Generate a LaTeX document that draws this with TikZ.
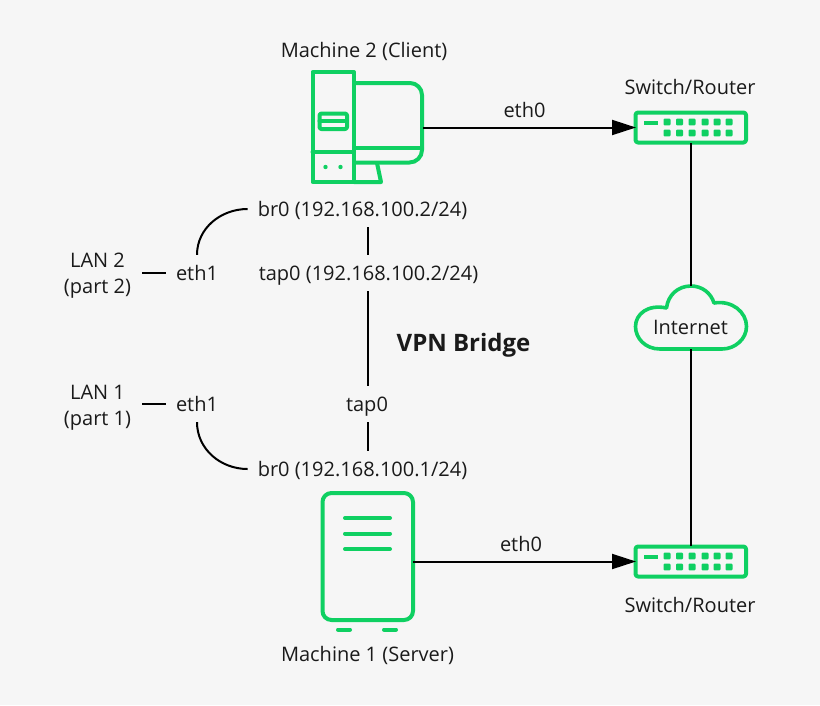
\documentclass[tikz,border=0pt]{standalone}
\usepackage{fontspec}
\setmainfont{Open Sans}
\usetikzlibrary{arrows.meta}
\definecolor{bggrey}{HTML}{F6F6F6}
\definecolor{icongreen}{HTML}{0FD062}
\definecolor{inkc}{HTML}{1A1A1A}
\tikzset{
  x=1pt,y=-1pt,
  lbl/.style={inner xsep=10pt,inner ysep=0pt,minimum height=36pt,text height=17pt,text depth=2pt,font=\fontsize{20}{26}\selectfont,text=inkc},
  lantext/.style={inner xsep=11pt,inner ysep=0pt,align=center,font=\fontsize{20}{26}\selectfont,text=inkc},
  caption/.style={inner sep=0pt,font=\fontsize{20}{22}\selectfont,text=inkc},
  wire/.style={draw=black,line width=2pt},
  arrowwire/.style={wire,-{Triangle[length=24pt,width=15pt]}},
  icon/.style={draw=icongreen,line width=4pt,line join=round,line cap=round},
  iconfill/.style={fill=icongreen,draw=none},
  box/.style={inner sep=0pt,outer sep=0pt,draw=none},
}
\newcommand{\switchicon}[1]{%
  \begin{scope}[shift={(0,#1)}]
    \draw[icon,rounded corners=2.5pt] (635.5,-15) rectangle (746,15);
    \draw[icon,line cap=butt] (644,-5) -- (658,-5);
    \foreach \px in {667,679.5,692,705,717,729}{
      \foreach \py in {-5.5,5.5}{
        \fill[iconfill,rounded corners=1pt] (\px-3.5,\py-3.4) rectangle (\px+3.5,\py+3.4);
      }
    }
  \end{scope}}
\begin{document}
\begin{tikzpicture}
\useasboundingbox (0,0) rectangle (820,705);
\fill[bggrey] (0,0) rectangle (820,705);

% Machine 2 icon
\node[box,minimum width=111pt,minimum height=111pt] (client) at (367.5,127.5) {};
\draw[icon] (312.5,72) rectangle (354,182);
\draw[icon] (312.5,152) -- (354,152);
\draw[icon,rounded corners=2pt] (319.5,113.5) rectangle (347,129);
\draw[icon] (319.5,121) -- (347,121);
\draw[icon] (354,83) -- (410,83) arc[start angle=-90,end angle=0,radius=12] -- (422,150) arc[start angle=0,end angle=90,radius=12.5] -- (354,162.5);
\draw[icon] (354,148) -- (422,148);
\draw[icon] (377,163) -- (381,182) -- (354,182);
\fill[iconfill] (325.5,167) circle (2.2) (340.5,167) circle (2.2);

% Server icon
\node[box,minimum width=91pt,minimum height=127pt] (server) at (367.5,556.5) {};
\draw[icon,rounded corners=9pt] (322.5,493) rectangle (413,620);
\draw[icon] (345,518) -- (390,518) (345,533.5) -- (390,533.5) (345,549) -- (390,549);
\draw[icon] (338,629.5) -- (350,629.5) (384,629.5) -- (396,629.5);

% Switches
\node[box,minimum width=110pt,minimum height=31pt] (swtop) at (691,127.5) {};
\switchicon{127.5}
\node[box,minimum width=110pt,minimum height=31pt] (swbot) at (691,561.5) {};
\switchicon{561.5}

% Cloud
\node[lbl,inner xsep=0pt] (cloud) at (690.5,327) {Internet};
\coordinate (cloudtop) at (691,286);
\coordinate (cloudbot) at (691,349);
\draw[icon,line width=3.6pt] (660,349)
  .. controls (645,349) and (635.5,338) .. (635.5,326.5)
  .. controls (635.5,314) and (648,304) .. (666.5,308)
  .. controls (668,295) and (678,286) .. (691,286)
  .. controls (702,286) and (711,293) .. (714,303)
  .. controls (732,300) and (746.5,312) .. (746.5,326.5)
  .. controls (746.5,339) and (735,349) .. (722,349) -- cycle;

% Labels
\node[caption] (mtwo) at (364,51) {Machine 2 (Client)};
\node[caption] (mone) at (367.5,655) {Machine 1 (Server)};
\node[caption] (swtoplabel) at (690,87) {Switch/Router};
\node[caption] (swbotlabel) at (690,605) {Switch/Router};
\node[lbl] (ethtop) at (524.5,110) {eth0};
\node[lbl] (ethbot) at (521,544) {eth0};
\node[lbl] (brtwo) at (362.5,209) {br0 (192.168.100.2/24)};
\node[lbl] (taptwo) at (368.5,273) {tap0 (192.168.100.2/24)};
\node[lbl] (tapone) at (367,404) {tap0};
\node[lbl] (brone) at (362.5,469) {br0 (192.168.100.1/24)};
\node[lbl] (ethonea) at (197,273) {eth1};
\node[lbl] (ethoneb) at (197,404) {eth1};
\node[lantext] (lantwo) at (97.5,276) {LAN 2\\(part 2)};
\node[lantext] (lanone) at (97.5,407.5) {LAN 1\\(part 1)};
\node[caption,font=\fontsize{24}{26}\selectfont\bfseries] (vpn) at (463.5,345) {VPN Bridge};

% Connectors
\coordinate (vx) at (368,0);
\draw[arrowwire] (swtop.west -| client.east) -- (swtop.west);
\draw[arrowwire] (swbot.west -| server.east) -- (swbot.west);
\draw[wire] (swtop.south) -- (cloudtop);
\draw[wire] (cloudbot) -- (swbot.north);
\draw[wire] (brtwo.south -| vx) -- (taptwo.north -| vx);
\draw[wire] (taptwo.south -| vx) -- (tapone.north -| vx);
\draw[wire] (tapone.south -| vx) -- (brone.north -| vx);
\draw[wire] (ethonea.north) to[out=90,in=180] (brtwo.west);
\draw[wire] (ethoneb.south) to[out=-90,in=180] (brone.west);
\draw[wire] (lantwo.east |- ethonea.west) -- (ethonea.west);
\draw[wire] (lanone.east |- ethoneb.west) -- (ethoneb.west);
\end{tikzpicture}
\end{document}
